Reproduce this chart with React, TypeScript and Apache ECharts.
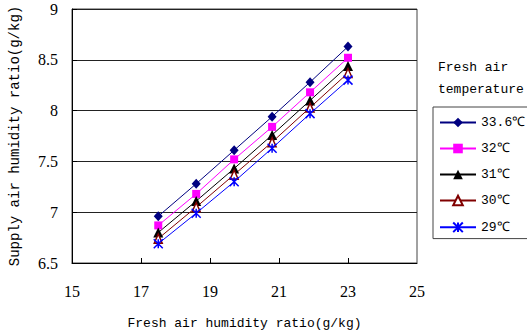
import React, { useEffect, useRef } from "react";
import * as echarts from "echarts";

const xValues = [17.5, 18.6, 19.7, 20.8, 21.9, 23.0];
const seriesNames = ["33.6℃", "32℃", "31℃", "30℃", "29℃"];
const s336 = [6.96, 7.28, 7.61, 7.94, 8.28, 8.63];
const s32 = [6.87, 7.18, 7.52, 7.84, 8.18, 8.52];
const s31 = [6.8, 7.11, 7.43, 7.76, 8.1, 8.44];
const s30 = [6.74, 7.05, 7.37, 7.69, 8.03, 8.37];
const s29 = [6.69, 6.99, 7.3, 7.63, 7.97, 8.3];
const xTickLabels = [15, 17, 19, 21, 23, 25];
const xInnerTicks = [17, 19, 21, 23];

const MONO = "Liberation Mono";
const SERIF = "Liberation Serif";

export default function App() {
  const ref = useRef<HTMLDivElement>(null);
  useEffect(() => {
    if (!ref.current) return;
    const chart = echarts.init(ref.current, null, { renderer: "svg" });
    const pts = (ys: number[]) => ys.map((y, i) => [xValues[i], y]);
    const star = "path://M0,0L10,10M10,0L0,10M5,0L5,10";
    const series: any[] = [
      {
        name: seriesNames[0],
        data: pts(s336),
        symbol: "diamond",
        symbolSize: [9, 10],
        lineStyle: { color: "#000080", width: 1 },
        itemStyle: { color: "#000080" },
      },
      {
        name: seriesNames[1],
        data: pts(s32),
        symbol: "rect",
        symbolSize: 8,
        lineStyle: { color: "#ff00ff", width: 1 },
        itemStyle: { color: "#ff00ff" },
      },
      {
        name: seriesNames[2],
        data: pts(s31),
        symbol: "triangle",
        symbolSize: [10, 10],
        lineStyle: { color: "#000000", width: 1 },
        itemStyle: { color: "#000000" },
      },
      {
        name: seriesNames[3],
        data: pts(s30),
        symbol: "triangle",
        symbolSize: [8, 9],
        lineStyle: { color: "#800000", width: 1 },
        itemStyle: { color: "#ffffff", borderColor: "#800000", borderWidth: 1.5 },
      },
      {
        name: seriesNames[4],
        data: pts(s29),
        symbol: star,
        symbolSize: 9,
        lineStyle: { color: "#0000ff", width: 1 },
        itemStyle: { color: "none", borderColor: "#0000ff", borderWidth: 1.5 },
      },
    ].map((s) => ({ type: "line", showSymbol: true, ...s }));

    chart.setOption({
      animation: false,
      backgroundColor: "#ffffff",
      textStyle: { fontFamily: SERIF, color: "#000" },
      grid: {
        left: 69,
        right: 110,
        top: 9,
        bottom: 69,
        show: true,
        borderColor: "#444",
        borderWidth: 1,
      },
      xAxis: {
        type: "value",
        min: 15,
        max: 25,
        interval: 1,
        name: "Fresh air humidity ratio(g/kg)",
        nameLocation: "middle",
        nameGap: 54,
        nameTextStyle: { fontFamily: MONO, fontSize: 13, color: "#000" },
        axisLine: { show: true, lineStyle: { color: "#000", width: 1 } },
        axisTick: {
          show: true,
          inside: true,
          length: 5,
          customValues: xInnerTicks,
          lineStyle: { color: "#000" },
        },
        axisLabel: {
          customValues: xTickLabels,
          margin: 20,
          fontFamily: SERIF,
          fontSize: 16,
          color: "#000",
        },
        splitLine: { show: false },
      },
      yAxis: {
        type: "value",
        min: 6.5,
        max: 9,
        interval: 0.5,
        name: "Supply air humidity ratio(g/kg)",
        nameLocation: "middle",
        nameGap: 50,
        nameTextStyle: { fontFamily: MONO, fontSize: 14, color: "#000" },
        axisLine: { show: true, lineStyle: { color: "#000", width: 1 } },
        axisTick: { show: true, inside: true, length: 5, lineStyle: { color: "#000" } },
        axisLabel: { margin: 14, fontFamily: SERIF, fontSize: 16, color: "#000" },
        splitLine: { show: true, lineStyle: { color: "#222", width: 1 } },
      },
      legend: {
        orient: "vertical",
        left: 433,
        top: 107,
        padding: [9, 60, 4, 6],
        itemGap: 13,
        itemWidth: 36,
        itemHeight: 12,
        borderColor: "#444",
        borderWidth: 1,
        data: seriesNames,
        textStyle: { fontFamily: MONO, fontSize: 13, color: "#000", lineHeight: 12 },
      },
      graphic: [
        {
          type: "text",
          left: 438,
          top: 56,
          style: {
            text: "Fresh air\ntemperature",
            fontFamily: MONO,
            fontSize: 13,
            lineHeight: 22,
            fill: "#000",
          },
        },
      ],
      series,
    });
    return () => chart.dispose();
  }, []);
  return (
    <div
      ref={ref}
      style={{ position: "fixed", left: 0, top: 0, width: 527, height: 335 }}
    />
  );
}
